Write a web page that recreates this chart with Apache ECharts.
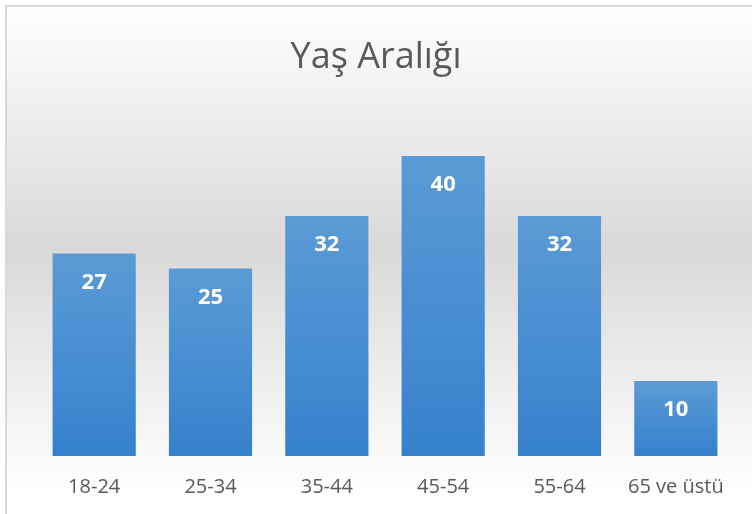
<!DOCTYPE html>
<html>
<head>
<meta charset="utf-8">
<script src="https://cdn.jsdelivr.net/npm/echarts@6/dist/echarts.min.js"></script>
<style>
  html, body { margin: 0; padding: 0; background: #fff; }
  #chart { width: 752px; height: 514px; }
</style>
</head>
<body>
<div id="chart"></div>
<script>
// yaş grupları ve değerler
const categories = ['18-24', '25-34', '35-44', '45-54', '55-64', '65 ve üstü']
const values = [27, 25, 32, 40, 32, 10]
const titleText = 'Yaş Aralığı'

const chart = echarts.init(document.getElementById('chart'))

const option = {
  textStyle: { fontFamily: 'Open Sans' },
  graphic: [
    {
      type: 'rect',
      z: -10,
      silent: true,
      shape: { x: 6, y: 6, width: 780, height: 540 },
      style: {
        stroke: '#d9d9d9',
        lineWidth: 2,
        fill: new echarts.graphic.LinearGradient(0, 0, 0, 1, [
          { offset: 0, color: '#ffffff' },
          { offset: 0.45, color: '#d9d9d9' },
          { offset: 0.9, color: '#ffffff' },
          { offset: 1, color: '#ffffff' }
        ])
      }
    }
  ],
  title: {
    text: titleText,
    left: 'center',
    top: 35,
    textStyle: {
      color: '#595959',
      fontSize: 36,
      fontWeight: 'normal',
      fontFamily: 'Open Sans'
    }
  },
  grid: {
    left: 36,
    right: 18,
    top: 156,
    bottom: 58
  },
  xAxis: {
    type: 'category',
    data: categories,
    axisLine: { show: false },
    axisTick: { show: false },
    axisLabel: {
      interval: 0,
      color: '#595959',
      fontSize: 20,
      margin: 21,
      fontFamily: 'Open Sans'
    }
  },
  yAxis: {
    type: 'value',
    min: 0,
    max: 40,
    show: false
  },
  series: [
    {
      type: 'bar',
      data: values,
      barWidth: '71.5%',
      itemStyle: {
        color: new echarts.graphic.LinearGradient(0, 0, 0, 1, [
          { offset: 0, color: '#5b9bd5' },
          { offset: 1, color: '#3681cd' }
        ])
      },
      label: {
        show: true,
        position: 'insideTop',
        distance: 18,
        color: '#ffffff',
        fontSize: 22,
        fontWeight: 'bold',
        fontFamily: 'Open Sans'
      }
    }
  ]
}

chart.setOption(option)
</script>
</body>
</html>
